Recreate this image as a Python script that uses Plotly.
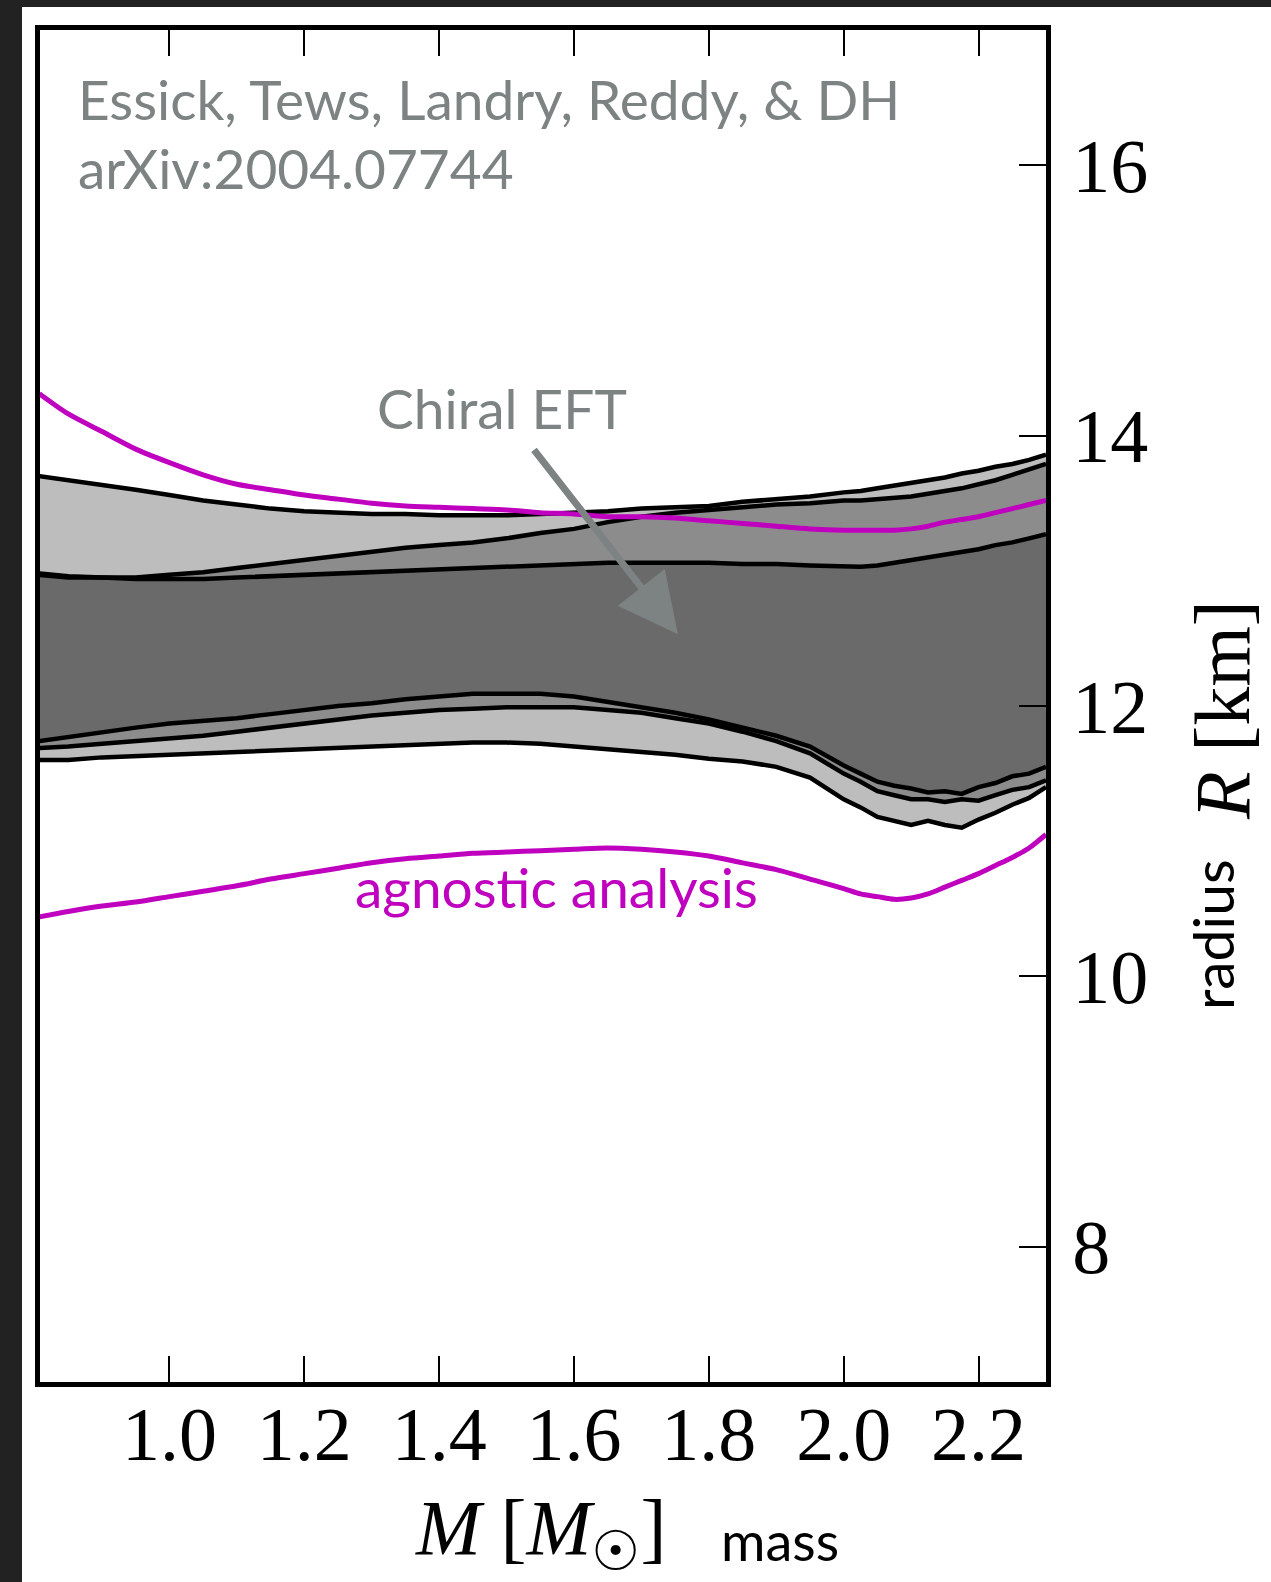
import plotly.graph_objects as go

# Neutron-star mass grid [M_sun]
mass = [0.807, 0.85, 0.90, 0.95, 1.00, 1.05, 1.10, 1.15, 1.20, 1.25, 1.30, 1.35,
        1.40, 1.45, 1.50, 1.55, 1.60, 1.65, 1.70, 1.75, 1.80, 1.85, 1.90, 1.95,
        2.00, 2.025, 2.05, 2.075, 2.10, 2.125, 2.15, 2.175, 2.20, 2.225, 2.25,
        2.275, 2.30]

# Agnostic (nonparametric) analysis: 90% radius bounds [km]
agnostic_upper = [14.31, 14.16, 14.03, 13.90, 13.80, 13.71, 13.64, 13.60, 13.56,
                  13.53, 13.50, 13.48, 13.47, 13.46, 13.45, 13.43, 13.42, 13.40,
                  13.40, 13.39, 13.37, 13.35, 13.33, 13.31, 13.30, 13.30, 13.30,
                  13.30, 13.31, 13.33, 13.36, 13.38, 13.40, 13.43, 13.46, 13.49,
                  13.52]
agnostic_lower = [10.44, 10.48, 10.52, 10.55, 10.59, 10.63, 10.67, 10.72, 10.76,
                  10.80, 10.84, 10.87, 10.89, 10.91, 10.92, 10.93, 10.94, 10.95,
                  10.94, 10.92, 10.89, 10.84, 10.79, 10.72, 10.65, 10.61, 10.59,
                  10.57, 10.58, 10.61, 10.66, 10.71, 10.76, 10.82, 10.88, 10.95,
                  11.05]

# Chiral EFT bands: outer (light), middle and inner (dark) radius bounds [km]
outer_upper = [13.70, 13.67, 13.64, 13.60, 13.56, 13.52, 13.49, 13.46, 13.44,
               13.43, 13.42, 13.42, 13.41, 13.41, 13.41, 13.42, 13.43, 13.44,
               13.46, 13.47, 13.48, 13.51, 13.53, 13.55, 13.58, 13.59, 13.61,
               13.63, 13.65, 13.67, 13.69, 13.72, 13.74, 13.77, 13.79, 13.82,
               13.86]
outer_lower = [11.60, 11.60, 11.62, 11.63, 11.64, 11.65, 11.66, 11.67, 11.68,
               11.69, 11.70, 11.71, 11.72, 11.73, 11.73, 11.72, 11.70, 11.68,
               11.66, 11.64, 11.61, 11.59, 11.55, 11.47, 11.31, 11.25, 11.18,
               11.15, 11.12, 11.15, 11.12, 11.10, 11.16, 11.21, 11.27, 11.32,
               11.40]
middle_upper = [12.98, 12.96, 12.95, 12.95, 12.97, 12.99, 13.02, 13.05, 13.08,
                13.11, 13.14, 13.17, 13.19, 13.21, 13.24, 13.28, 13.31, 13.36,
                13.40, 13.43, 13.45, 13.47, 13.49, 13.50, 13.52, 13.52, 13.53,
                13.54, 13.55, 13.57, 13.59, 13.61, 13.64, 13.67, 13.71, 13.75,
                13.79]
middle_lower = [11.69, 11.70, 11.72, 11.74, 11.76, 11.78, 11.81, 11.84, 11.87,
                11.90, 11.93, 11.95, 11.97, 11.98, 11.99, 11.99, 11.99, 11.97,
                11.95, 11.91, 11.87, 11.81, 11.74, 11.65, 11.50, 11.44, 11.37,
                11.34, 11.31, 11.31, 11.29, 11.31, 11.30, 11.34, 11.38, 11.40,
                11.45]
inner_upper = [12.97, 12.95, 12.95, 12.94, 12.94, 12.94, 12.95, 12.96, 12.97,
               12.98, 12.99, 13.00, 13.01, 13.02, 13.03, 13.04, 13.05, 13.06,
               13.06, 13.06, 13.06, 13.05, 13.05, 13.04, 13.03, 13.03, 13.04,
               13.06, 13.08, 13.10, 13.12, 13.14, 13.16, 13.19, 13.21, 13.24,
               13.27]
inner_lower = [11.74, 11.77, 11.81, 11.84, 11.87, 11.89, 11.91, 11.94, 11.97,
               12.00, 12.02, 12.05, 12.07, 12.09, 12.09, 12.09, 12.07, 12.03,
               11.99, 11.95, 11.90, 11.84, 11.78, 11.70, 11.56, 11.50, 11.44,
               11.41, 11.39, 11.36, 11.37, 11.35, 11.40, 11.43, 11.48, 11.50,
               11.55]

mass_ticks = [1.0, 1.2, 1.4, 1.6, 1.8, 2.0, 2.2]
mass_ticktext = ["1.0", "1.2", "1.4", "1.6", "1.8", "2.0", "2.2"]
radius_ticks = [8, 10, 12, 14, 16]
radius_ticktext = ["8", "10", "12", "14", "16"]

W, H = 1271, 1582
ML, MR, MT, MB = 40, 225, 30, 200

def px(x):
    return (x - ML) / (W - ML - MR)

def py(y):
    return (H - MB - y) / (H - MT - MB)

GREY_TEXT = "#7d8283"
MAGENTA = "#bf00bf"
SERIF = "Liberation Serif, DejaVu Serif, serif"
SANS = "Lato, Noto Sans, sans-serif"

fig = go.Figure()

bands = [
    (outer_upper, outer_lower, "#bdbdbd"),
    (middle_upper, middle_lower, "#8c8c8c"),
    (inner_upper, inner_lower, "#6a6a6a"),
]
for upper, lower, color in bands:
    fig.add_trace(go.Scatter(
        x=mass + mass[::-1], y=upper + lower[::-1],
        fill="toself", fillcolor=color, mode="lines",
        line=dict(width=0), hoverinfo="skip", showlegend=False))

for curve in [outer_upper, outer_lower, middle_upper, middle_lower,
              inner_upper, inner_lower]:
    fig.add_trace(go.Scatter(
        x=mass, y=curve, mode="lines",
        line=dict(color="black", width=4.5), hoverinfo="skip",
        showlegend=False))

for curve in [agnostic_upper, agnostic_lower]:
    fig.add_trace(go.Scatter(
        x=mass, y=curve, mode="lines",
        line=dict(color=MAGENTA, width=5, shape="spline", smoothing=0.8),
        hoverinfo="skip", showlegend=False))

annotations = [
    dict(text="Essick, Tews, Landry, Reddy, &amp; DH", x=px(76), y=py(99),
         xanchor="left", yanchor="middle",
         font=dict(family=SANS, size=55, color=GREY_TEXT)),
    dict(text="arXiv:2004.07744", x=px(76), y=py(168),
         xanchor="left", yanchor="middle",
         font=dict(family=SANS, size=55, color=GREY_TEXT)),
    dict(text="Chiral EFT", x=px(502), y=py(408),
         xanchor="center", yanchor="middle",
         font=dict(family=SANS, size=55, color=GREY_TEXT)),
    dict(text="agnostic analysis", x=px(556), y=py(887),
         xanchor="center", yanchor="middle",
         font=dict(family=SANS, size=55, color=MAGENTA)),
    dict(text="<i>M</i> [<i>M</i><sub>☉</sub>]", x=px(540), y=py(1533),
         xanchor="center", yanchor="middle",
         font=dict(family=SERIF, size=78, color="black")),
    dict(text="mass", x=px(780), y=py(1540),
         xanchor="center", yanchor="middle",
         font=dict(family=SANS, size=54, color="black")),
    dict(text="<i>R</i> [km]", x=px(1222), y=py(710), textangle=-90,
         xanchor="center", yanchor="middle",
         font=dict(family=SERIF, size=78, color="black")),
    dict(text="radius", x=px(1212), y=py(935), textangle=-90,
         xanchor="center", yanchor="middle",
         font=dict(family=SANS, size=57, color="black")),
]
for a in annotations:
    a.update(xref="paper", yref="paper", showarrow=False)

# arrow pointing into the Chiral EFT band
annotations.append(dict(
    x=1.754, y=12.53, xref="x", yref="y", text="", showarrow=True,
    ax=-145, ay=-186, axref="pixel", ayref="pixel",
    arrowhead=2, arrowsize=1.7, arrowwidth=7, arrowcolor=GREY_TEXT,
    standoff=0))

shapes = [
    dict(type="rect", xref="paper", yref="paper",
         x0=px(0), x1=px(22), y0=py(H), y1=py(0),
         fillcolor="#222222", line=dict(width=0), layer="above"),
    dict(type="rect", xref="paper", yref="paper",
         x0=px(0), x1=px(W), y0=py(7), y1=py(0),
         fillcolor="#222222", line=dict(width=0), layer="above"),
]

fig.update_layout(
    width=W, height=H,
    margin=dict(l=ML, r=MR, t=MT, b=MB, pad=0),
    paper_bgcolor="white", plot_bgcolor="white",
    showlegend=False,
    annotations=annotations,
    shapes=shapes,
    xaxis=dict(
        range=[0.808, 2.30], tickvals=mass_ticks, ticktext=mass_ticktext,
        ticks="inside", ticklen=26, tickwidth=2, tickcolor="black",
        showline=True, linewidth=5, linecolor="black", mirror="allticks",
        showgrid=False, zeroline=False, ticklabelstandoff=-18,
        tickfont=dict(family=SERIF, size=76, color="black")),
    yaxis=dict(
        range=[7, 17], tickvals=radius_ticks, ticktext=radius_ticktext,
        side="right", ticks="inside", ticklen=27, tickwidth=2,
        tickcolor="black", showline=True, linewidth=5, linecolor="black",
        mirror=True, showgrid=False, zeroline=False, ticklabelstandoff=6,
        tickfont=dict(family=SERIF, size=76, color="black")),
)

fig.write_html("out.html")
